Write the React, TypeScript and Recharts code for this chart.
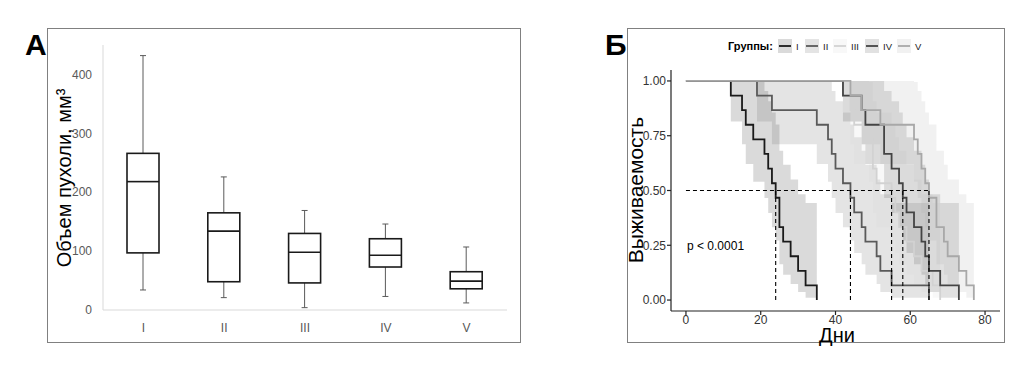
import React from "react";
import { Area, Bar, ComposedChart, Line, ReferenceLine, XAxis, YAxis } from "recharts";

// Panel A: tumour volume per group (box plot)
const groups = ["I", "II", "III", "IV", "V"];
const volMin = [34, 21, 4, 23, 12];
const volQ1 = [97, 48, 46, 73, 36];
const volMedian = [218, 134, 98, 93, 49];
const volQ3 = [266, 165, 130, 121, 65];
const volMax = [432, 226, 169, 146, 107];
const volTicks = [0, 100, 200, 300, 400];

// Panel Б: Kaplan-Meier survival per group
const daysI = [0, 12, 15, 16, 18, 21, 22, 23, 24, 25, 26, 28, 30, 32, 35];
const survI = [1, 0.933, 0.867, 0.8, 0.733, 0.667, 0.6, 0.533, 0.467, 0.333, 0.267, 0.2, 0.133, 0.067, 0];
const lowI = [1, 0.815, 0.711, 0.621, 0.54, 0.466, 0.397, 0.332, 0.272, 0.163, 0.115, 0.073, 0.037, 0.01, 0.01];
const highI = [1, 1, 1, 1, 0.995, 0.954, 0.907, 0.856, 0.801, 0.681, 0.617, 0.55, 0.483, 0.443, 0.443];

const daysII = [0, 19, 23, 35, 38, 39, 40, 42, 44, 45, 47, 48, 51, 52, 55, 65];
const survII = [1, 0.933, 0.867, 0.8, 0.733, 0.667, 0.6, 0.533, 0.467, 0.4, 0.333, 0.267, 0.2, 0.133, 0.067, 0];
const lowII = [1, 0.815, 0.711, 0.621, 0.54, 0.466, 0.397, 0.332, 0.272, 0.215, 0.163, 0.115, 0.073, 0.037, 0.01, 0.01];
const highII = [1, 1, 1, 1, 0.995, 0.954, 0.907, 0.856, 0.801, 0.743, 0.681, 0.617, 0.55, 0.483, 0.443, 0.443];

const daysIII = [0, 42, 44, 45, 49, 50, 51, 55, 56, 57, 59, 61, 63, 66, 68];
const survIII = [1, 0.933, 0.867, 0.8, 0.733, 0.6, 0.533, 0.467, 0.4, 0.333, 0.267, 0.2, 0.133, 0.067, 0];
const lowIII = [1, 0.815, 0.711, 0.621, 0.54, 0.397, 0.332, 0.272, 0.215, 0.163, 0.115, 0.073, 0.037, 0.01, 0.01];
const highIII = [1, 1, 1, 1, 0.995, 0.907, 0.856, 0.801, 0.743, 0.681, 0.617, 0.55, 0.483, 0.443, 0.443];

const daysIV = [0, 42, 47, 48, 53, 55, 57, 58, 59, 61, 63, 64, 65, 68, 73];
const survIV = [1, 0.933, 0.867, 0.8, 0.667, 0.6, 0.533, 0.467, 0.4, 0.333, 0.267, 0.2, 0.133, 0.067, 0];
const lowIV = [1, 0.815, 0.711, 0.621, 0.466, 0.397, 0.332, 0.272, 0.215, 0.163, 0.115, 0.073, 0.037, 0.01, 0.01];
const highIV = [1, 1, 1, 1, 0.954, 0.907, 0.856, 0.801, 0.743, 0.681, 0.617, 0.55, 0.483, 0.443, 0.443];

const daysV = [0, 44, 47, 52, 61, 62, 63, 64, 65, 67, 69, 70, 73, 75, 77];
const survV = [1, 0.933, 0.867, 0.8, 0.733, 0.667, 0.6, 0.533, 0.467, 0.333, 0.267, 0.2, 0.133, 0.067, 0];
const lowV = [1, 0.815, 0.711, 0.621, 0.54, 0.466, 0.397, 0.332, 0.272, 0.163, 0.115, 0.073, 0.037, 0.01, 0.01];
const highV = [1, 1, 1, 1, 0.995, 0.954, 0.907, 0.856, 0.801, 0.681, 0.617, 0.55, 0.483, 0.443, 0.443];

const medianDays = [24, 44, 55, 58, 65];
const dayTicks = [0, 20, 40, 60, 80];
const survTicks = [0, 0.25, 0.5, 0.75, 1];

const lineColors = ["#1a1a1a", "#5a5a5a", "#d2d2d2", "#444444", "#a8a8a8"];
const FONT = "'Liberation Sans', Arial, sans-serif";

const boxRows = groups.map((name, i) => ({
  name,
  min: volMin[i],
  q1: volQ1[i],
  median: volMedian[i],
  q3: volQ3[i],
  max: volMax[i],
}));

const toRows = (days: number[], surv: number[], low: number[], high: number[]) =>
  days.map((t, i) => ({ t, s: surv[i], band: [low[i], high[i]] }));

const survRows = [
  toRows(daysI, survI, lowI, highI),
  toRows(daysII, survII, lowII, highII),
  toRows(daysIII, survIII, lowIII, highIII),
  toRows(daysIV, survIV, lowIV, highIV),
  toRows(daysV, survV, lowV, highV),
];

function BoxShape(props: any) {
  const { x, y, width, height, payload } = props;
  if (x == null || !payload) return null;
  const top = Math.min(y, y + height);
  const h = Math.abs(height);
  const toY = (v: number) => top + ((payload.max - v) / (payload.max - payload.min)) * h;
  const cx = x + width / 2;
  const cap = 3;
  const whisker = "#5a5a5a";
  return (
    <g>
      <line x1={cx} x2={cx} y1={toY(payload.max)} y2={toY(payload.q3)} stroke={whisker} />
      <line x1={cx} x2={cx} y1={toY(payload.q1)} y2={toY(payload.min)} stroke={whisker} />
      <line x1={cx - cap} x2={cx + cap} y1={toY(payload.max)} y2={toY(payload.max)} stroke={whisker} />
      <line x1={cx - cap} x2={cx + cap} y1={toY(payload.min)} y2={toY(payload.min)} stroke={whisker} />
      <rect
        x={x}
        y={toY(payload.q3)}
        width={width}
        height={toY(payload.q1) - toY(payload.q3)}
        fill="#fff"
        stroke="#1a1a1a"
        strokeWidth={1.6}
      />
      <line
        x1={x}
        x2={x + width}
        y1={toY(payload.median)}
        y2={toY(payload.median)}
        stroke="#1a1a1a"
        strokeWidth={1.6}
      />
    </g>
  );
}

function VolumeChart() {
  return (
    <ComposedChart
      width={472}
      height={313}
      data={boxRows}
      margin={{ top: 16, right: 13, bottom: 12, left: 15 }}
    >
      <XAxis
        dataKey="name"
        axisLine={{ stroke: "#d9d9d9" }}
        tickLine={false}
        tick={{ fill: "#595959", fontSize: 12, fontFamily: FONT }}
        tickMargin={7}
        height={20}
      />
      <YAxis
        domain={[0, 450]}
        ticks={volTicks}
        axisLine={{ stroke: "#d9d9d9" }}
        tickLine={false}
        tick={{ fill: "#595959", fontSize: 12, fontFamily: FONT }}
        tickMargin={5}
        width={40}
      />
      <Bar
        dataKey={(d: any) => [d.min, d.max]}
        barSize={32}
        shape={(p: any) => <BoxShape {...p} />}
        isAnimationActive={false}
      />
    </ComposedChart>
  );
}

function SurvivalChart() {
  const axisStyle = { stroke: "#222", strokeWidth: 1.2 };
  const tickStyle = { fill: "#333", fontSize: 12, fontFamily: FONT };
  return (
    <ComposedChart width={376} height={313} margin={{ top: 41, right: 4, bottom: 11, left: 0 }}>
      <XAxis
        type="number"
        dataKey="t"
        domain={[-4, 84]}
        ticks={dayTicks}
        allowDataOverflow
        axisLine={axisStyle}
        tickLine={axisStyle}
        tickSize={4}
        tickMargin={0}
        tick={tickStyle}
        height={20}
      />
      <YAxis
        type="number"
        domain={[-0.05, 1.05]}
        ticks={survTicks}
        allowDataOverflow
        tickFormatter={(v: number) => v.toFixed(2)}
        axisLine={axisStyle}
        tickLine={axisStyle}
        tickSize={4}
        tickMargin={1}
        tick={tickStyle}
        width={43}
      />
      {survRows.map((rows, i) => (
        <Area
          key={`band-${i}`}
          data={rows}
          dataKey="band"
          type="stepAfter"
          stroke="none"
          fill={lineColors[i]}
          fillOpacity={0.16}
          isAnimationActive={false}
        />
      ))}
      {survRows.map((rows, i) => (
        <Line
          key={`line-${i}`}
          data={rows}
          dataKey="s"
          type="stepAfter"
          stroke={lineColors[i]}
          strokeWidth={1.8}
          dot={false}
          activeDot={false}
          isAnimationActive={false}
        />
      ))}
      <ReferenceLine
        segment={[{ x: 0, y: 0.5 }, { x: medianDays[medianDays.length - 1], y: 0.5 }]}
        stroke="#000"
        strokeDasharray="4 3"
        strokeWidth={1.1}
      />
      {medianDays.map((m) => (
        <ReferenceLine
          key={`med-${m}`}
          segment={[{ x: m, y: 0 }, { x: m, y: 0.5 }]}
          stroke="#000"
          strokeDasharray="4 3"
          strokeWidth={1.1}
        />
      ))}
    </ComposedChart>
  );
}

export default function App() {
  const legendKeys = [778, 805, 833, 865, 897];
  return (
    <div
      style={{
        position: "absolute",
        left: 0,
        top: 0,
        width: 1033,
        height: 374,
        background: "#fff",
        fontFamily: FONT,
      }}
    >
      <div style={{ position: "absolute", left: 48, top: 29 }}>
        <VolumeChart />
      </div>
      <div style={{ position: "absolute", left: 628, top: 29 }}>
        <SurvivalChart />
      </div>
      <svg
        width={1033}
        height={374}
        style={{ position: "absolute", left: 0, top: 0, pointerEvents: "none" }}
        fontFamily={FONT}
      >
        <rect x={47.5} y={28.5} width={473} height={314} fill="none" stroke="#808080" />
        <rect x={627.5} y={28.5} width={377} height={314} fill="none" stroke="#808080" />
        <text x={25} y={55} fontSize={30} fontWeight="bold" fill="#000">
          А
        </text>
        <text x={605} y={55} fontSize={30} fontWeight="bold" fill="#000">
          Б
        </text>
        <text
          transform="translate(71,178) rotate(-90)"
          textAnchor="middle"
          fontSize={20}
          fill="#000"
        >
          Объем пухоли, мм³
        </text>
        <text
          transform="translate(643,190) rotate(-90)"
          textAnchor="middle"
          fontSize={21}
          fill="#000"
        >
          Выживаемость
        </text>
        <text x={837} y={341.5} textAnchor="middle" fontSize={20} fill="#000">
          Дни
        </text>
        <text x={687} y={250} fontSize={12} fill="#000">
          p &lt; 0.0001
        </text>
        <text x={728} y={50} fontSize={11} fontWeight="bold" fill="#000">
          Группы:
        </text>
        {groups.map((g, i) => (
          <g key={g}>
            <rect x={legendKeys[i]} y={39} width={14} height={14} fill={lineColors[i]} fillOpacity={0.16} />
            <line
              x1={legendKeys[i] + 1}
              x2={legendKeys[i] + 13}
              y1={46}
              y2={46}
              stroke={lineColors[i]}
              strokeWidth={1.8}
            />
            <text x={legendKeys[i] + 18} y={50} fontSize={9.5} fill="#222">
              {g}
            </text>
          </g>
        ))}
      </svg>
    </div>
  );
}
